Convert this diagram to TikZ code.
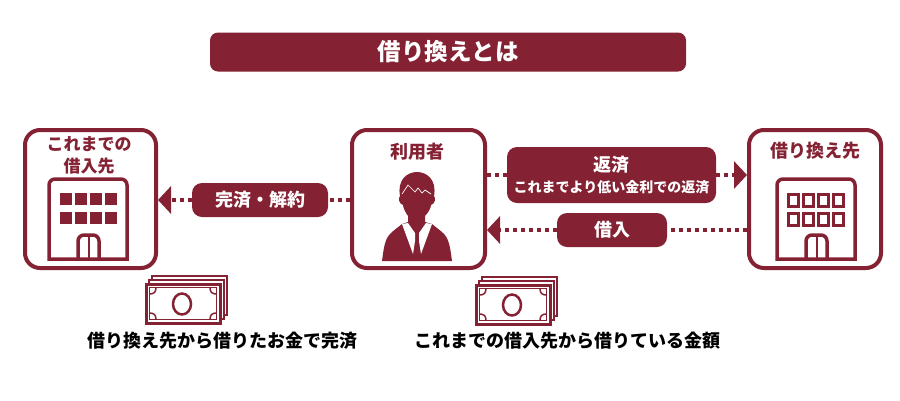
\documentclass[tikz,border=0pt]{standalone}
\usepackage{fontspec}
\setmainfont{Noto Sans CJK JP}
\usetikzlibrary{arrows.meta}
\definecolor{maroon}{HTML}{842233}
\tikzset{
  partybox/.style={draw=maroon, line width=4pt, rounded corners=15pt, fill=white, inner sep=0pt},
  pill/.style={fill=maroon, rounded corners=#1, text=white, font=\bfseries\fontsize{18}{20}\selectfont, inner sep=0pt, align=center},
  pill/.default=10pt,
  partylabel/.style={text=maroon, font=\bfseries\fontsize{17}{22}\selectfont, inner sep=0pt, align=center},
  caption/.style={text=black, font=\bfseries\fontsize{18}{20}\selectfont, inner sep=0pt},
  flow/.style={draw=maroon, line width=4pt, dash pattern=on 4pt off 4pt},
  headtip/.style={-{Triangle[length=13pt,width=27pt]}},
  building/.pic={
    \draw[maroon, line width=3.5pt] (0,80) [rounded corners=6pt] -- (0,0) -- (78,0) [sharp corners] -- (78,80) -- cycle;
    \draw[maroon, line width=3.5pt] (29,80) [rounded corners=6pt] -- (29,56) -- (50,56) [sharp corners] -- (50,80);
    \draw[maroon, line width=2pt] (39.5,56) -- (39.5,80);
  },
  money/.pic={
    \draw[maroon, line width=2.5pt, fill=white] (6,-4) -- (6,-8) -- (81,-8) -- (81,31) -- (77,31);
    \draw[maroon, line width=2.5pt, fill=white] (3,0) -- (3,-4) -- (78,-4) -- (78,35) -- (74,35);
    \draw[maroon, line width=3pt, fill=white] (0,0) rectangle (74,39);
    \draw[maroon, line width=1.5pt] (3.5,3.5) rectangle (70.5,35.5);
    \draw[maroon, line width=2.5pt] (36,20) ellipse (9 and 10.5);
    \draw[maroon, line width=1.5pt] (3.5,10) .. controls (8,10) and (10,8) .. (10,3.5);
    \draw[maroon, line width=1.5pt] (70.5,10) .. controls (66,10) and (64,8) .. (64,3.5);
    \draw[maroon, line width=1.5pt] (3.5,29) .. controls (8,29) and (10,31) .. (10,35.5);
    \draw[maroon, line width=1.5pt] (70.5,29) .. controls (66,29) and (64,31) .. (64,35.5);
  }
}
\begin{document}
\begin{tikzpicture}[x=1pt,y=-1pt]
\fill[white] (0,0) rectangle (900,400);
\useasboundingbox (0,0) rectangle (900,400);

\node[pill=8pt, minimum width=476pt, minimum height=39pt, font=\bfseries\fontsize{23.5}{26}\selectfont] (title) at (448,52) {借り換えとは};

% three parties
\node[partybox, minimum width=131pt, minimum height=138pt] (oldbank) at (90.5,199) {};
\node[partybox, minimum width=133pt, minimum height=138pt] (user) at (418.5,199) {};
\node[partybox, minimum width=132pt, minimum height=138pt] (newbank) at (815,199) {};
\node[partylabel] (oldlabel) at (89,155.5) {これまでの\\借入先};
\node[partylabel, font=\bfseries\fontsize{18}{20}\selectfont] (userlabel) at (417,152) {利用者};
\node[partylabel, font=\bfseries\fontsize{18}{20}\selectfont] (newlabel) at (815,151) {借り換え先};

% labels on the flows
\node[pill, minimum width=136pt, minimum height=34pt] (settle) at (260,200) {完済・解約};
\node[pill, minimum width=209pt, minimum height=56pt] (repay) at (611.5,175) {{\fontsize{18}{22}\selectfont 返済}\\[1pt]{\fontsize{14}{18}\selectfont これまでより低い金利での返済}};
\node[pill, minimum width=110pt, minimum height=34pt] (borrow) at (612,230) {借入};

\coordinate (settleleft) at (oldbank.east |- settle);
\coordinate (settleright) at (user.west |- settle);
\coordinate (repayleft) at (user.east |- repay);
\coordinate (repayright) at (newbank.west |- repay);
\coordinate (borrowleft) at (user.east |- borrow);
\coordinate (borrowright) at (newbank.west |- borrow);
\draw[flow] (settleright) -- (settle.east);
\draw[flow, headtip] (settle.west) -- (settleleft);
\draw[flow] (repayleft) -- (repay.west);
\draw[flow, headtip] (repay.east) -- (repayright);
\draw[flow] (borrowright) -- (borrow.east);
\draw[flow, headtip] (borrow.west) -- (borrowleft);

% old bank, filled windows
\pic at (49,179) {building};
\foreach \wx in {60,75,90,105} {
  \fill[maroon] (\wx,193) rectangle +(11.5,12);
  \fill[maroon] (\wx,212) rectangle +(11.5,12);
}
% new bank, open windows
\pic at (777,179) {building};
\foreach \wx in {788,803,818,833} {
  \draw[maroon, line width=3pt] (\wx,194) rectangle +(10,12);
  \draw[maroon, line width=3pt] (\wx,213) rectangle +(10,12);
}

% person
\fill[maroon] (382,261) .. controls (384,246) and (385,238) .. (392,232) -- (402,224) -- (408,222) -- (408,216) .. controls (405,212) and (403,207) .. (403,205) .. controls (399,204) and (398,198) .. (400,196) .. controls (397,180) and (407,172) .. (417,172) .. controls (427,172) and (437,180) .. (434,196) .. controls (436,198) and (435,204) .. (431,205) .. controls (431,207) and (429,212) .. (425,216) -- (425,222) -- (432,224) -- (442,232) .. controls (449,238) and (450,246) .. (452,261) -- cycle;
\fill[white] (402,224) -- (408,223) -- (415,233) -- (415,241) -- (413,254) -- cycle;
\fill[white] (432,224) -- (426,223) -- (419,233) -- (419,241) -- (421,254) -- cycle;
\draw[white, line width=.7pt] (402,194) -- (408,185) -- (415,192) -- (418,188) -- (422,193) -- (425,190) -- (431,194);

% money and captions
\pic at (146,284) {money};
\pic at (476,285) {money};
\node[caption] (leftcaption) at (222,341) {借り換え先から借りたお金で完済};
\node[caption] (rightcaption) at (567,341) {これまでの借入先から借りている金額};
\end{tikzpicture}
\end{document}
